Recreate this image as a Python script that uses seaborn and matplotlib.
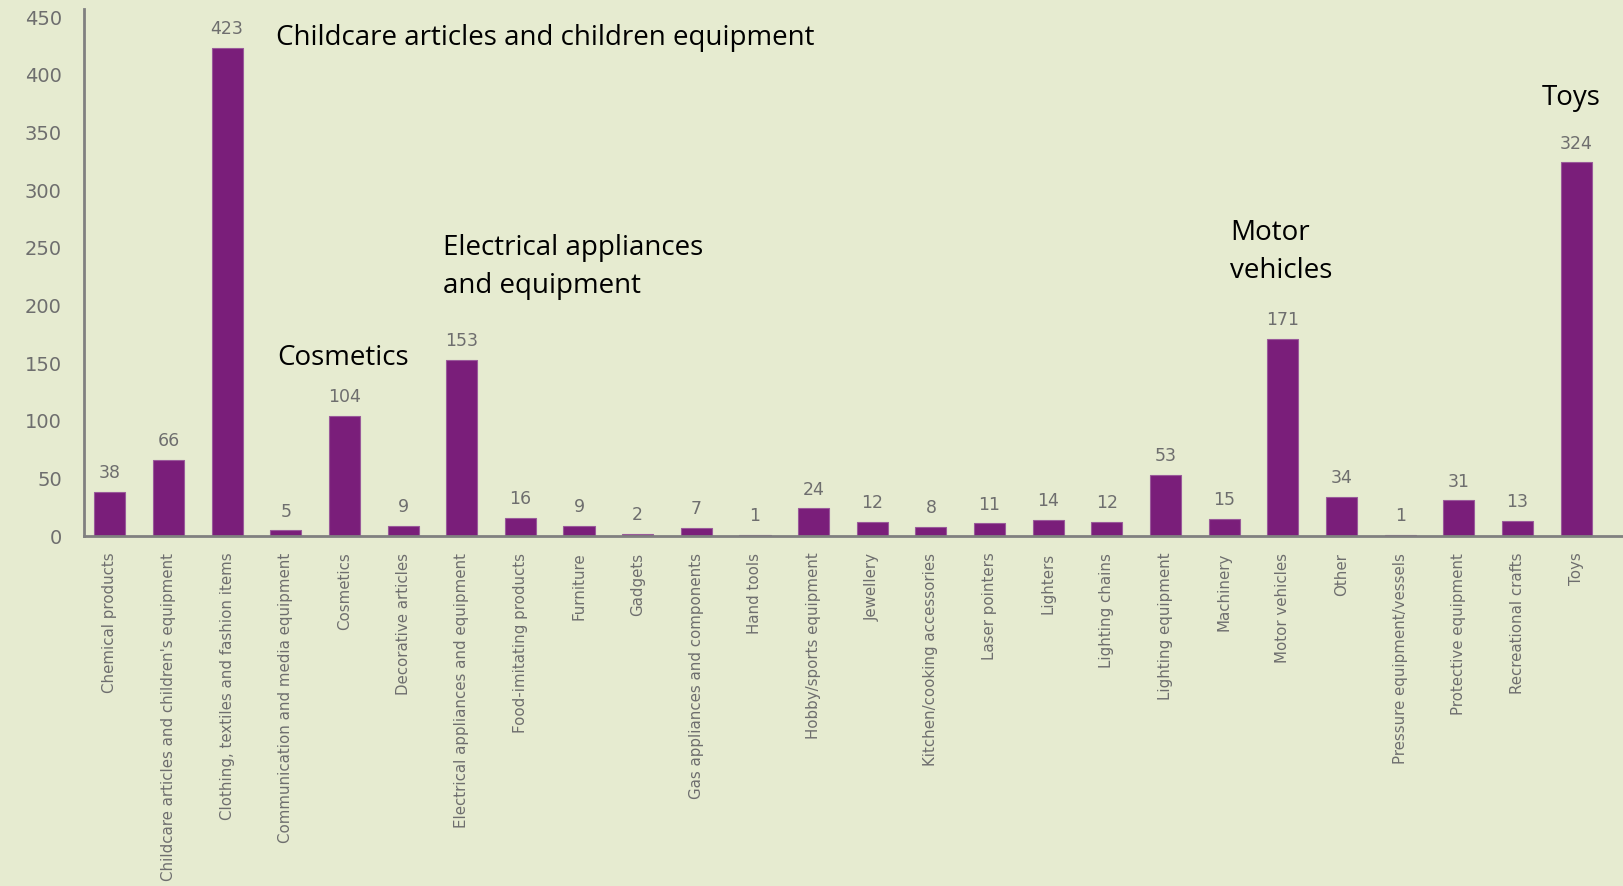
import matplotlib
matplotlib.use("Agg")
import matplotlib.pyplot as plt
import seaborn as sns
import pandas as pd

categories = [
    "Chemical products",
    "Childcare articles and children's equipment",
    "Clothing, textiles and fashion items",
    "Communication and media equipment",
    "Cosmetics",
    "Decorative articles",
    "Electrical appliances and equipment",
    "Food-imitating products",
    "Furniture",
    "Gadgets",
    "Gas appliances and components",
    "Hand tools",
    "Hobby/sports equipment",
    "Jewellery",
    "Kitchen/cooking accessories",
    "Laser pointers",
    "Lighters",
    "Lighting chains",
    "Lighting equipment",
    "Machinery",
    "Motor vehicles",
    "Other",
    "Pressure equipment/vessels",
    "Protective equipment",
    "Recreational crafts",
    "Toys",
]
values = [38, 66, 423, 5, 104, 9, 153, 16, 9, 2, 7, 1, 24, 12, 8, 11, 14, 12,
          53, 15, 171, 34, 1, 31, 13, 324]
yticks = [0, 50, 100, 150, 200, 250, 300, 350, 400, 450]

annotations = [
    ("Childcare articles and children equipment", 276, 38),
    ("Electrical appliances\nand equipment", 443, 267),
    ("Cosmetics", 277, 358),
    ("Motor\nvehicles", 1230, 252),
    ("Toys", 1542, 98),
]

BG = "#E6EBD0"
BAR = "#7A1E7A"
GREY = "#6E6E6E"

sns.set_theme(style="white")
plt.rcParams["font.family"] = ["DejaVu Sans"]

W, H = 1623, 886
fig = plt.figure(figsize=(W / 100, H / 100), dpi=100, facecolor=BG)
ax = fig.add_axes([84 / W, (H - 536) / H, 1 - 84 / W, (536 - 9) / H])
ax.set_facecolor(BG)

df = pd.DataFrame({"category": categories, "value": values})
sns.barplot(data=df, x="category", y="value", color=BAR, saturation=1,
            width=0.53, edgecolor="#9a5a9a", linewidth=0.8, ax=ax)

ax.set_xlim(-0.44, 25.8)
ax.set_ylim(0, 457)
ax.set_yticks(yticks)
ax.set_yticklabels([str(t) for t in yticks], color=GREY, fontsize=14)
ax.set_xlabel("")
ax.set_ylabel("")
ax.set_xticks(range(len(categories)))
ax.set_xticklabels(categories, rotation=90, color=GREY, fontsize=10.8,
                   va="top", ha="center")
ax.tick_params(axis="x", length=0, pad=12)
ax.tick_params(axis="y", length=0, pad=16)

for s in ["top", "right"]:
    ax.spines[s].set_visible(False)
for s in ["left", "bottom"]:
    ax.spines[s].set_color("#808080")
    ax.spines[s].set_linewidth(2)

for i, v in enumerate(values):
    ax.annotate(str(v), (i, v), xytext=(0, 7), textcoords="offset points",
                ha="center", va="bottom", color=GREY, fontsize=12.5)

for txt, px, py in annotations:
    fig.text(px / W, 1 - py / H, txt, ha="left", va="center", fontsize=20,
             family=["Open Sans", "DejaVu Sans"], color="black", linespacing=1.5)

fig.savefig("out.png", dpi=100, facecolor=BG)
